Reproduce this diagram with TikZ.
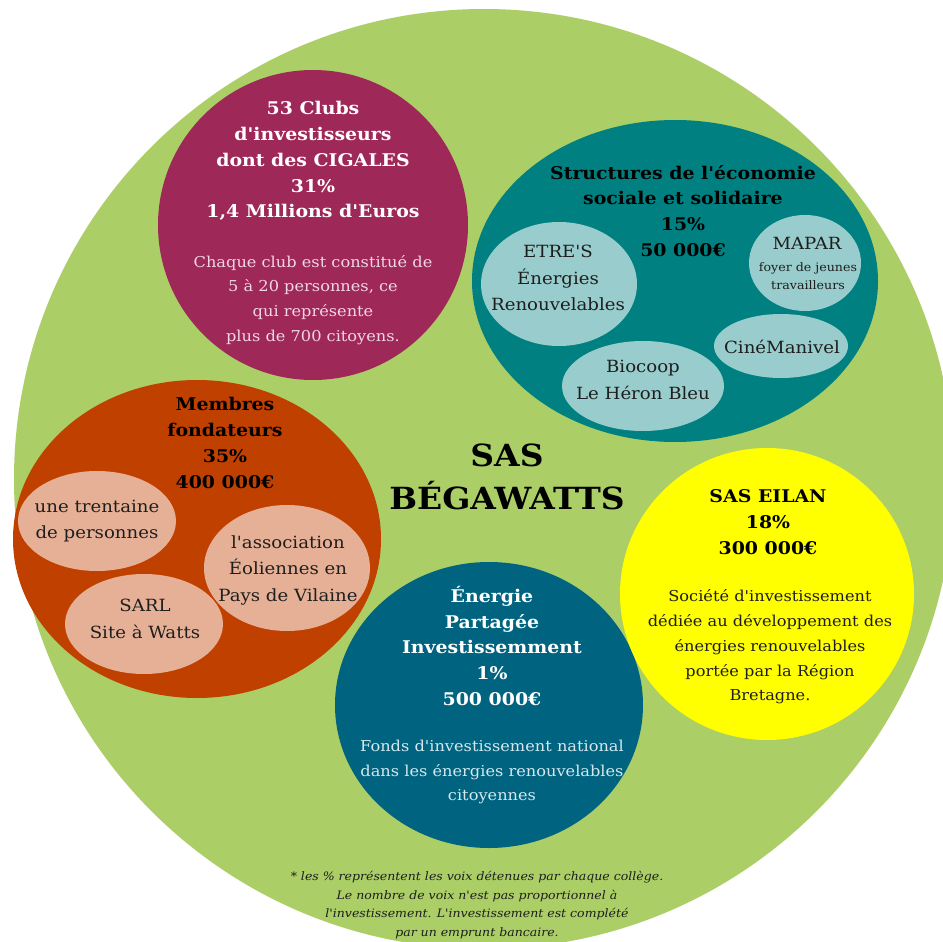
\documentclass[tikz,border=0pt]{standalone}
\usepackage{fontspec}
\setmainfont{DejaVu Serif}[FakeStretch=1.08, Ligatures=TeXOff]
\definecolor{bggreen}{RGB}{172,206,102}
\definecolor{clubs}{RGB}{158,40,88}
\definecolor{ess}{RGB}{0,128,128}
\definecolor{esslight}{RGB}{153,204,204}
\definecolor{fond}{RGB}{192,64,0}
\definecolor{fondlight}{RGB}{230,176,150}
\definecolor{epi}{RGB}{0,100,128}
\definecolor{eilan}{RGB}{255,255,0}
\definecolor{pinktext}{RGB}{242,214,228}
\definecolor{bluetext}{RGB}{212,232,238}
\definecolor{darktext}{RGB}{30,30,30}
\tikzset{
  ttl/.style={font=\bfseries\fontsize{17.5}{25.8}\selectfont, align=center, inner sep=0pt},
  bdy/.style={font=\fontsize{15}{24.7}\selectfont, align=center, inner sep=0pt},
  subtxt/.style={font=\fontsize{16.8}{26.5}\selectfont, align=center, inner sep=0pt, text=darktext},
  note/.style={font=\itshape\fontsize{11.6}{18.5}\selectfont, align=center, inner sep=0pt, text=darktext},
}
\begin{document}
\begin{tikzpicture}[x=1pt,y=-1pt]
\useasboundingbox (0,0) rectangle (943,942);
\fill[white] (0,0) rectangle (943,942);
\begin{scope}
\clip (0,0) rectangle (943,942);
\fill[bggreen] (484,479) circle (470);
\end{scope}
% clubs
\fill[clubs] (313,225) circle (155);
\node[ttl, text=white] (clubsT) at (313,161) {53 Clubs\\d'investisseurs\\dont des CIGALES\\31\%\\1,4 Millions d'Euros};
\node[bdy, text=pinktext] (clubsB) at (313,300) {Chaque club est constitué de\\5 à 20 personnes, ce\\qui représente\\plus de 700 citoyens.};
% ESS
\fill[ess] (675,281) ellipse (203 and 161);
\fill[esslight] (559,284) ellipse (78 and 62);
\fill[esslight] (805,263) ellipse (56 and 48);
\fill[esslight] (781,346) ellipse (67 and 32);
\fill[esslight] (643,386) ellipse (81 and 45);
\node[ttl, text=black] (essT) at (683,211) {Structures de l'économie\\sociale et solidaire\\15\%\\50 000€};
\node[subtxt] (etres) at (558,278) {ETRE'S\\Énergies\\Renouvelables};
\node[subtxt] (mapar) at (807,243) {MAPAR};
\node[subtxt, font=\fontsize{11.7}{17.5}\selectfont] (maparB) at (808,276) {foyer de jeunes\\travailleurs};
\node[subtxt] (cine) at (782,347) {CinéManivel};
\node[subtxt] (bio) at (643,380) {Biocoop\\Le Héron Bleu};
% fondateurs
\fill[fond] (197,539) ellipse (184 and 159);
\fill[fondlight] (97,521) ellipse (79 and 50);
\fill[fondlight] (287,568) ellipse (83 and 63);
\fill[fondlight] (144,624) ellipse (79 and 50);
\node[ttl, text=black] (fondT) at (225,443) {Membres\\fondateurs\\35\%\\400 000€};
\node[subtxt] (trent) at (97,521) {une trentaine\\de personnes};
\node[subtxt] (asso) at (288,570) {l'association\\Éoliennes en\\Pays de Vilaine};
\node[subtxt] (sarl) at (145,619) {SARL\\Site à Watts};
% EPI
\fill[epi] (489,705) ellipse (154 and 143);
\node[ttl, text=white] (epiT) at (492,646) {Énergie\\Partagée\\Investissemment\\1\%\\500 000€};
\node[bdy, text=bluetext] (epiB) at (492,772) {Fonds d'investissement national\\dans les énergies renouvelables\\citoyennes};
% EILAN
\fill[eilan] (767,594) ellipse (147 and 146);
\node[ttl, text=black] (eilT) at (768,522) {SAS EILAN\\18\%\\300 000€};
\node[bdy, text=darktext] (eilB) at (770,647) {Société d'investissement\\dédiée au développement des\\énergies renouvelables\\portée par la Région\\Bretagne.};
% centre
\node[font=\bfseries\fontsize{30.5}{43}\selectfont, align=center, inner sep=0pt] (sas) at (507,477) {SAS\\BÉGAWATTS};
% note
\node[note] (foot) at (477,905) {* les \% représentent les voix détenues par chaque collège.\\Le nombre de voix n'est pas proportionnel à\\l'investissement. L'investissement est complété\\par un emprunt bancaire.};
\end{tikzpicture}
\end{document}
